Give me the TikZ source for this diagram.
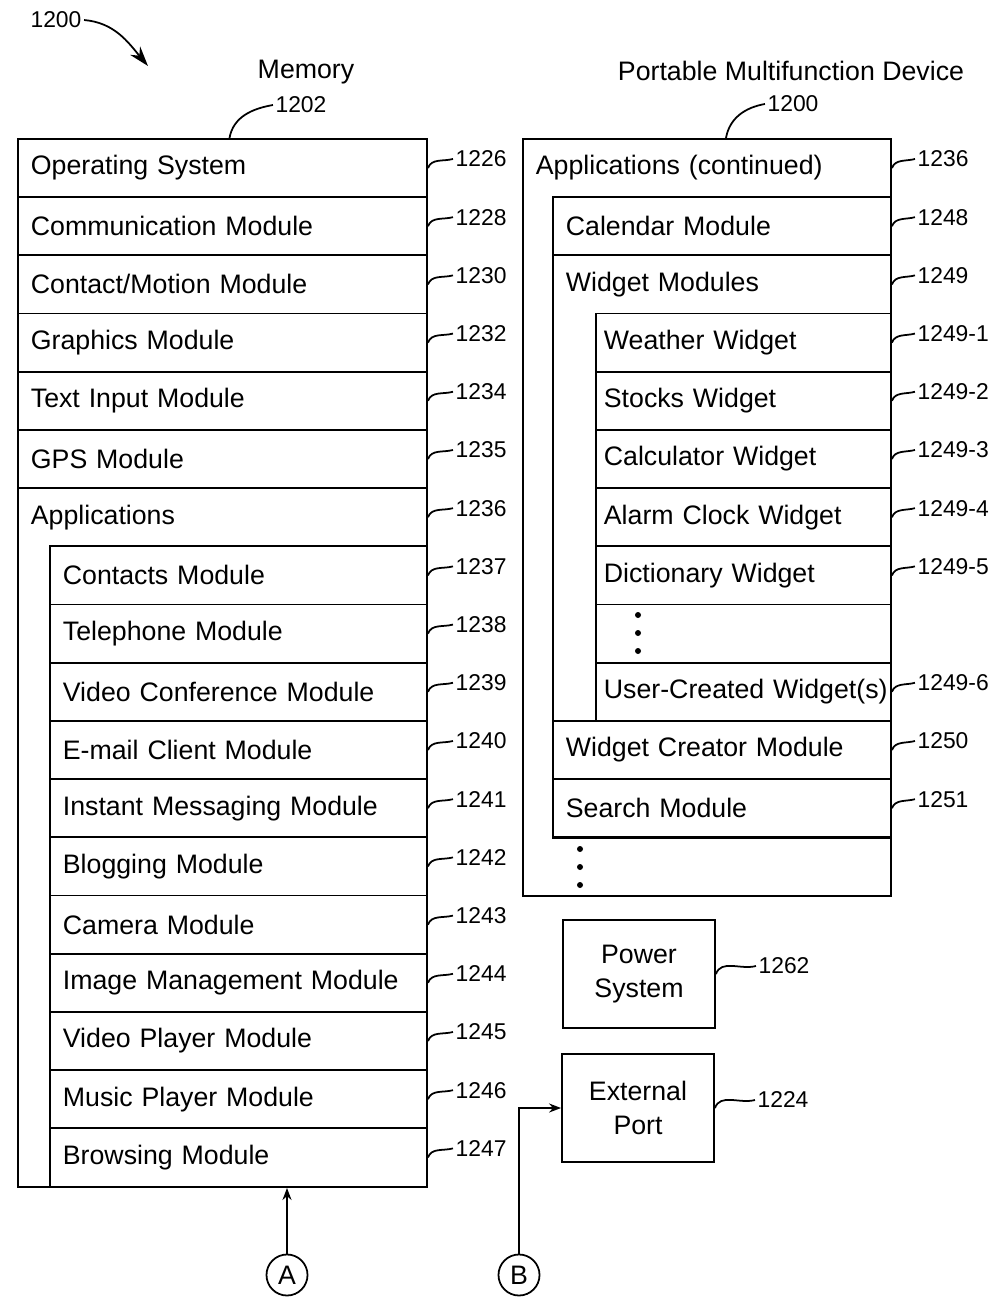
\documentclass[tikz,border=0pt]{standalone}
\usepackage{fontspec}
\setmainfont{Liberation Sans}
\usetikzlibrary{positioning,arrows.meta}

\begin{document}
\begin{tikzpicture}[x=0.01cm, y=-0.01cm, line width=0.5pt,
  font=\fontsize{7.6}{9.7}\selectfont,
  frame/.style={draw, anchor=north west, inner sep=0pt},
  memrow/.style={draw, anchor=north west, minimum height=5.82mm, inner xsep=1.3mm, text width=3.83cm, align=left},
  memhdr/.style={memrow, draw=none},
  approw/.style={memrow, text width=3.51cm},
  devrow/.style={memrow, text width=3.12cm},
  devhdr/.style={devrow, draw=none},
  wgtrow/.style={memrow, inner xsep=0.8mm, text width=2.79cm},
  blockbox/.style={draw, minimum width=1.52cm, minimum height=1.08cm, align=center},
  letter/.style={draw, circle, minimum size=4.1mm, inner sep=0pt},
  num/.style={font=\fontsize{6.5}{8}\selectfont, inner sep=0.5pt},
  refline/.style={out=70, in=195},
  tip/.style={-{Stealth[length=1.2mm, width=0.9mm]}}]
\useasboundingbox (0,0) rectangle (992,1297);

% Titoli
\node[num] (fig) at (56,20) {1200};
\coordinate (figtip) at (148,66);
\draw[-{Stealth[length=2mm, width=1.3mm]}] (fig.east) to[out=-5, in=130] (figtip);
\node (memtitle) at (306,72) {Memory};
\node (devtitle) at (791,71) {Portable Multifunction Device};

% Memoria
\node[frame, minimum width=4.09cm, minimum height=10.476cm] (memory) at (17,138) {};
\node[num] (n1202) at (301,105) {1202};
\draw ([xshift=0.07cm]memory.north) to[out=80, in=190] (n1202.west);
\node[memrow] (os) at (17,138) {Operating System};
\node[memrow] (comm) at (17,196.2) {Communication Module};
\node[memrow] (contact) at (17,254.4) {Contact/Motion Module};
\node[memrow] (graphics) at (17,312.6) {Graphics Module};
\node[memrow] (textin) at (17,370.8) {Text Input Module};
\node[memrow] (gps) at (17,429) {GPS Module};
\node[memhdr] (apps) at (17,487.2) {Applications};
\node[approw] (contacts) at (49,545.4) {Contacts Module};
\node[approw] (phone) at (49,603.6) {Telephone Module};
\node[approw] (videoconf) at (49,661.8) {Video Conference Module};
\node[approw] (email) at (49,720) {E-mail Client Module};
\node[approw] (im) at (49,778.2) {Instant Messaging Module};
\node[approw] (blog) at (49,836.4) {Blogging Module};
\node[approw] (camera) at (49,894.6) {Camera Module};
\node[approw] (image) at (49,952.8) {Image Management Module};
\node[approw] (video) at (49,1011) {Video Player Module};
\node[approw] (music) at (49,1069.2) {Music Player Module};
\node[approw] (browse) at (49,1127.4) {Browsing Module};

% Numeri a sinistra
\node[num, right=2.5mm of os.east, yshift=0.9mm] (n1226) {1226}; \draw (os.east) to[refline] (n1226.west);
\node[num, right=2.5mm of comm.east, yshift=0.9mm] (n1228) {1228}; \draw (comm.east) to[refline] (n1228.west);
\node[num, right=2.5mm of contact.east, yshift=0.9mm] (n1230) {1230}; \draw (contact.east) to[refline] (n1230.west);
\node[num, right=2.5mm of graphics.east, yshift=0.9mm] (n1232) {1232}; \draw (graphics.east) to[refline] (n1232.west);
\node[num, right=2.5mm of textin.east, yshift=0.9mm] (n1234) {1234}; \draw (textin.east) to[refline] (n1234.west);
\node[num, right=2.5mm of gps.east, yshift=0.9mm] (n1235) {1235}; \draw (gps.east) to[refline] (n1235.west);
\node[num, right=2.5mm of apps.east, yshift=0.9mm] (n1236) {1236}; \draw (apps.east) to[refline] (n1236.west);
\node[num, right=2.5mm of contacts.east, yshift=0.9mm] (n1237) {1237}; \draw (contacts.east) to[refline] (n1237.west);
\node[num, right=2.5mm of phone.east, yshift=0.9mm] (n1238) {1238}; \draw (phone.east) to[refline] (n1238.west);
\node[num, right=2.5mm of videoconf.east, yshift=0.9mm] (n1239) {1239}; \draw (videoconf.east) to[refline] (n1239.west);
\node[num, right=2.5mm of email.east, yshift=0.9mm] (n1240) {1240}; \draw (email.east) to[refline] (n1240.west);
\node[num, right=2.5mm of im.east, yshift=0.9mm] (n1241) {1241}; \draw (im.east) to[refline] (n1241.west);
\node[num, right=2.5mm of blog.east, yshift=0.9mm] (n1242) {1242}; \draw (blog.east) to[refline] (n1242.west);
\node[num, right=2.5mm of camera.east, yshift=0.9mm] (n1243) {1243}; \draw (camera.east) to[refline] (n1243.west);
\node[num, right=2.5mm of image.east, yshift=0.9mm] (n1244) {1244}; \draw (image.east) to[refline] (n1244.west);
\node[num, right=2.5mm of video.east, yshift=0.9mm] (n1245) {1245}; \draw (video.east) to[refline] (n1245.west);
\node[num, right=2.5mm of music.east, yshift=0.9mm] (n1246) {1246}; \draw (music.east) to[refline] (n1246.west);
\node[num, right=2.5mm of browse.east, yshift=0.9mm] (n1247) {1247}; \draw (browse.east) to[refline] (n1247.west);

% Dispositivo: applicazioni (continua)
\node[frame, minimum width=3.68cm, minimum height=7.566cm] (device) at (522,138) {};
\node[num] (n1200) at (793,104) {1200};
\draw ([xshift=0.19cm]device.north) to[out=80, in=190] (n1200.west);
\node[memhdr, text width=3.42cm] (appscont) at (522,138) {Applications (continued)};
\node[frame, minimum width=3.38cm, minimum height=6.402cm] (appsframe) at (552,196.2) {};
\node[devrow] (calendar) at (552,196.2) {Calendar Module};
\node[frame, minimum width=3.38cm, minimum height=4.656cm] (wgtframe) at (552,254.4) {};
\node[devhdr] (widgets) at (552,254.4) {Widget Modules};
\node[wgtrow] (weather) at (595,312.6) {Weather Widget};
\node[wgtrow] (stocks) at (595,370.8) {Stocks Widget};
\node[wgtrow] (calc) at (595,429) {Calculator Widget};
\node[wgtrow] (alarm) at (595,487.2) {Alarm Clock Widget};
\node[wgtrow] (dict) at (595,545.4) {Dictionary Widget};
\node[wgtrow] (wgtdots) at (595,603.6) {};
\node[wgtrow] (usercreated) at (595,661.8) {\mbox{User-Created Widget(s)}};
\node[devrow] (creator) at (552,720) {Widget Creator Module};
\node[devrow] (search) at (552,778.2) {Search Module};
\fill (638,615) circle[radius=0.3mm] (638,633) circle[radius=0.3mm] (638,651) circle[radius=0.3mm];
\fill (580,849) circle[radius=0.3mm] (580,867) circle[radius=0.3mm] (580,885) circle[radius=0.3mm]; % altre applicazioni

% Numeri a destra
\node[num, right=2.3mm of appscont.east, yshift=0.9mm] (n1236b) {1236}; \draw (appscont.east) to[refline] (n1236b.west);
\node[num, right=2.3mm of calendar.east, yshift=0.9mm] (n1248) {1248}; \draw (calendar.east) to[refline] (n1248.west);
\node[num, right=2.3mm of widgets.east, yshift=0.9mm] (n1249) {1249}; \draw (widgets.east) to[refline] (n1249.west);
\node[num, right=2.3mm of weather.east, yshift=0.9mm] (n1249a) {1249-1}; \draw (weather.east) to[refline] (n1249a.west);
\node[num, right=2.3mm of stocks.east, yshift=0.9mm] (n1249b) {1249-2}; \draw (stocks.east) to[refline] (n1249b.west);
\node[num, right=2.3mm of calc.east, yshift=0.9mm] (n1249c) {1249-3}; \draw (calc.east) to[refline] (n1249c.west);
\node[num, right=2.3mm of alarm.east, yshift=0.9mm] (n1249d) {1249-4}; \draw (alarm.east) to[refline] (n1249d.west);
\node[num, right=2.3mm of dict.east, yshift=0.9mm] (n1249e) {1249-5}; \draw (dict.east) to[refline] (n1249e.west);
\node[num, right=2.3mm of usercreated.east, yshift=0.9mm] (n1249f) {1249-6}; \draw (usercreated.east) to[refline] (n1249f.west);
\node[num, right=2.3mm of creator.east, yshift=0.9mm] (n1250) {1250}; \draw (creator.east) to[refline] (n1250.west);
\node[num, right=2.3mm of search.east, yshift=0.9mm] (n1251) {1251}; \draw (search.east) to[refline] (n1251.west);

% Alimentazione e porta esterna
\node[blockbox] (power) at (639,974) {Power\\System};
\node[num, right=4mm of power.east, yshift=0.8mm] (n1262) {1262}; \draw (power.east) to[refline] (n1262.west);
\node[blockbox] (port) at (638,1108) {External\\Port};
\node[num, right=4mm of port.east, yshift=0.8mm] (n1224) {1224}; \draw (port.east) to[refline] (n1224.west);

% Connettori
\node[letter] (A) at (287,1275) {A};
\node[letter] (B) at (519,1275) {B};
\draw[tip] (A) -- (A |- memory.south);
\draw[tip] (B) |- (port.west);
\end{tikzpicture}
\end{document}
